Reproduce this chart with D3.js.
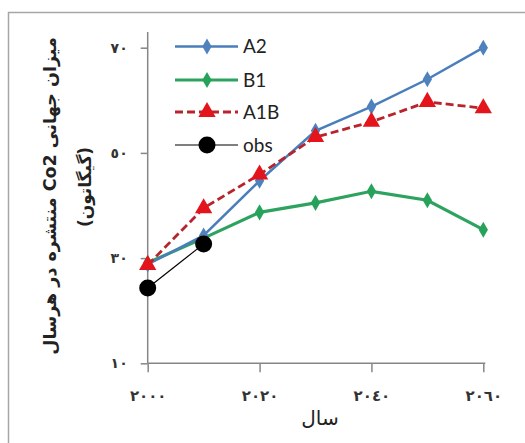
<!DOCTYPE html>
<html><head><meta charset="utf-8">
<script src="https://cdn.jsdelivr.net/npm/d3@7"></script>
<style>
body{margin:0;background:#fff;}
svg{display:block;}
</style></head>
<body>
<svg id="chart" width="525" height="443"></svg>
<script>
const years = [2000, 2010, 2020, 2030, 2040, 2050, 2060];
const seriesNames = ["A2", "B1", "A1B", "obs"];
const A2 = [28.8, 34.3, 44.7, 54.2, 58.8, 64.0, 70.0];
const B1 = [29.1, 33.8, 38.7, 40.5, 42.7, 41.0, 35.4];
const A1B = [28.7, 39.5, 45.9, 53.0, 55.9, 59.7, 58.5];
const obsYears = [2000, 2010];
const obs = [24.3, 32.7];
const yTicks = [10, 30, 50, 70];
const xTicks = [2000, 2020, 2040, 2060];
const xTitle = "سال";
const yTitle1 = "میزان جهانی  Co2 منتشره در هرسال";
const yTitle2 = "(گیگاتون)";

const fa = n => String(n).replace(/[0-9]/g, d => "٠١٢٣٤٥٦٧٨٩"[+d]);

const svg = d3.select("#chart");
// outer frame
svg.append("path").attr("d","M8.5,450 L8.5,12.5 L530,12.5")
  .attr("fill","none").attr("stroke","#a6a6a6").attr("stroke-width",1.5);

const x = d3.scaleLinear().domain([2000, 2060]).range([147.7, 483.3]);
const y = d3.scaleLinear().domain([10, 70]).range([363.3, 47.7]);

const axisColor = "#868686";
// y axis
const gy = svg.append("g").attr("transform", `translate(${x(2000)},0)`)
  .call(d3.axisLeft(y).tickValues(yTicks).tickSize(7).tickPadding(13).tickFormat(fa));
gy.select(".domain").remove();
gy.append("line").attr("x1",0).attr("x2",0).attr("y1",y(73)).attr("y2",y(10))
  .attr("stroke",axisColor).attr("stroke-width",1.5);
gy.selectAll(".tick line").attr("stroke",axisColor).attr("stroke-width",1.5);
gy.selectAll(".tick text").attr("font-family","DejaVu Sans").attr("font-size",14)
  .attr("font-weight","bold").attr("fill","#333").attr("letter-spacing",1);

// x axis
const gx = svg.append("g").attr("transform", `translate(0,${y(10)})`)
  .call(d3.axisBottom(x).tickValues(xTicks).tickSize(9).tickPadding(18).tickFormat(fa));
gx.select(".domain").remove();
gx.append("line").attr("x1",x(2000)).attr("x2",x(2060)+2).attr("y1",0).attr("y2",0)
  .attr("stroke",axisColor).attr("stroke-width",1.5);
gx.selectAll(".tick line").attr("stroke",axisColor).attr("stroke-width",1.5);
gx.selectAll(".tick text").attr("font-family","DejaVu Sans").attr("font-size",15)
  .attr("font-weight","bold").attr("fill","#333").attr("letter-spacing",2);

// titles
svg.append("text").attr("x",320).attr("y",425).attr("text-anchor","middle")
  .attr("font-family","DejaVu Sans").attr("font-size",20).attr("fill","#222").text(xTitle);
svg.append("text").attr("transform","translate(56,196) rotate(-90)").attr("text-anchor","middle")
  .attr("direction","rtl").attr("font-family","DejaVu Sans").attr("font-size",17.5).attr("font-weight","bold")
  .attr("fill","#222").text(yTitle1);
svg.append("text").attr("transform","translate(91,187) rotate(-90)").attr("text-anchor","middle")
  .attr("direction","rtl").attr("font-family","DejaVu Sans").attr("font-size",17).attr("font-weight","bold")
  .attr("fill","#222").text(yTitle2);

const line = d3.line();
const diamond = d3.symbol().type(d3.symbolDiamond).size(75);
const tri = d3.symbol().type(d3.symbolTriangle).size(130);

const styles = {
  A2: {stroke:"#4a7ebb", width:2.5, dash:null, fill:"#4f81bd", sym:diamond},
  B1: {stroke:"#2ea35f", width:3.2, dash:null, fill:"#27a25a", sym:diamond},
  A1B:{stroke:"#b8242c", width:2.8, dash:"8,4", fill:"#e3141c", sym:tri},
  obs:{stroke:"#000", width:1.2, dash:null, fill:"#000", sym:null}
};

function drawSeries(name, xs, vals){
  const s = styles[name];
  const pts = xs.map((yr,i)=>[x(yr), y(vals[i])]);
  svg.append("path").attr("d", line(pts)).attr("fill","none").attr("stroke",s.stroke)
    .attr("stroke-width",s.width).attr("stroke-dasharray",s.dash);
  pts.forEach(p=>{
    if (s.sym) svg.append("path").attr("d", s.sym()).attr("transform",`translate(${p[0]},${p[1]})`).attr("fill",s.fill);
    else svg.append("circle").attr("cx",p[0]).attr("cy",p[1]).attr("r",8.5).attr("fill",s.fill);
  });
}
drawSeries("B1", years, B1);
drawSeries("A2", years, A2);
drawSeries("A1B", years, A1B);
drawSeries("obs", obsYears, obs);

// legend
const legY = [46.5, 80, 112, 145];
seriesNames.forEach((name,i)=>{
  const s = styles[name];
  const g = svg.append("g").attr("transform",`translate(0,${legY[i]})`);
  g.append("line").attr("x1",175).attr("x2",238).attr("y1",0).attr("y2",0)
    .attr("stroke",s.stroke).attr("stroke-width",s.width).attr("stroke-dasharray",s.dash);
  if (s.sym) g.append("path").attr("d", s.sym()).attr("transform","translate(207,0)").attr("fill",s.fill);
  else g.append("circle").attr("cx",207).attr("cy",0).attr("r",8.5).attr("fill",s.fill);
  g.append("text").attr("x",243).attr("y",6.5).attr("font-family","Lato").attr("font-size",19)
    .attr("fill","#222").text(name);
});
</script>
</body></html>
